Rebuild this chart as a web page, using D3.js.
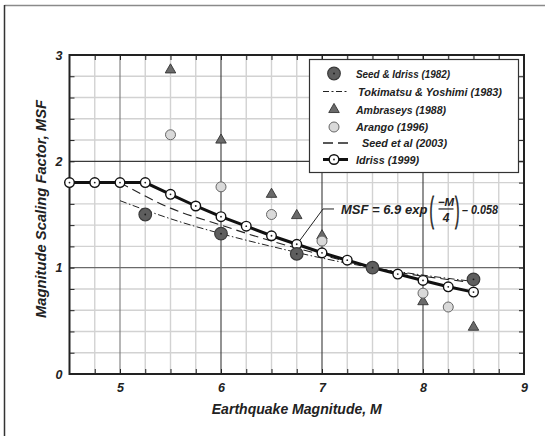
<!DOCTYPE html>
<html>
<head>
<meta charset="utf-8">
<script src="https://cdn.jsdelivr.net/npm/d3@7"></script>
<style>
  body { margin: 0; background: #fff; }
  text { font-family: "Liberation Sans", Arial, sans-serif; font-weight: bold; font-style: italic; fill: #222; }
</style>
</head>
<body>
<svg id="chart" width="545" height="436"></svg>
<script>
// ---- data -------------------------------------------------------------
const idrissM   = [4.5, 4.75, 5, 5.25, 5.5, 5.75, 6, 6.25, 6.5, 6.75, 7, 7.25, 7.5, 7.75, 8, 8.25, 8.5];
const idrissMSF = [1.80, 1.80, 1.80, 1.80, 1.69, 1.58, 1.48, 1.39, 1.30, 1.22, 1.14, 1.07, 1.00, 0.94, 0.88, 0.82, 0.77];

const seedIdrissM   = [5.25, 6, 6.75, 7.5, 8.5];
const seedIdrissMSF = [1.50, 1.32, 1.13, 1.00, 0.89];

const ambraseysM   = [5.5, 6, 6.5, 6.75, 7, 7.5, 8, 8.5];
const ambraseysMSF = [2.86, 2.20, 1.69, 1.49, 1.30, 1.00, 0.68, 0.44];

const arangoM   = [5.5, 6, 6.5, 7, 7.5, 8, 8.25];
const arangoMSF = [2.25, 1.76, 1.50, 1.25, 1.00, 0.76, 0.63];

const tokimatsuM   = [5, 5.5, 6, 6.5, 7, 7.5, 8, 8.5];
const tokimatsuMSF = [1.63, 1.46, 1.32, 1.20, 1.09, 1.00, 0.93, 0.87];

const seed2003M   = [5, 5.5, 6, 6.5, 7, 7.5, 8, 8.5];
const seed2003MSF = [1.80, 1.56, 1.40, 1.25, 1.12, 1.00, 0.92, 0.86];

const xTickLabels = [5, 6, 7, 8, 9];
const yTickLabels = [0, 1, 2, 3];
const xMinorTicks = d3.range(19, 36).map(i => i / 4);   // 4.75 .. 8.75
const yMinorTicks = d3.range(1, 15).map(i => i / 5);    // 0.2 .. 2.8

const legendLabels = ["Seed & Idriss (1982)", "Tokimatsu & Yoshimi (1983)", "Ambraseys (1988)",
                      "Arango (1996)", "Seed et al (2003)", "Idriss (1999)"];

// ---- layout -----------------------------------------------------------
const svg = d3.select("#chart");
const L = 69.5, R = 524, T = 55, B = 374;
const x = d3.scaleLinear().domain([4.5, 9]).range([L, R]);
const y = d3.scaleLinear().domain([0, 3]).range([B, T]);
const zip = (a, b) => a.map((v, i) => [v, b[i]]);

// page frame
svg.append("line").attr("x1", 4.5).attr("x2", 545).attr("y1", 5.5).attr("y2", 5.5)
  .attr("stroke", "#8a8a8a").attr("stroke-width", 1.5);
svg.append("line").attr("x1", 4.5).attr("x2", 4.5).attr("y1", 5).attr("y2", 436)
  .attr("stroke", "#333").attr("stroke-width", 1.5);

// ---- grid -------------------------------------------------------------
const grid = svg.append("g");
grid.selectAll(".vx").data(xMinorTicks.filter(v => v % 1 !== 0)).join("line")
  .attr("x1", d => x(d)).attr("x2", d => x(d)).attr("y1", T).attr("y2", B)
  .attr("stroke", "#d2d2d2").attr("stroke-width", 1.4);
grid.selectAll(".hy").data(yMinorTicks.filter(v => Math.abs(v - Math.round(v)) > 1e-6)).join("line")
  .attr("y1", d => y(d)).attr("y2", d => y(d)).attr("x1", L).attr("x2", R)
  .attr("stroke", "#d2d2d2").attr("stroke-width", 1.4);
grid.selectAll(".vmaj").data([5, 6, 7, 8]).join("line")
  .attr("x1", d => x(d)).attr("x2", d => x(d)).attr("y1", T).attr("y2", B)
  .attr("stroke", d => d === 5 ? "#7a7a7a" : "#3a3a3a").attr("stroke-width", 1.1);
grid.selectAll(".hmaj").data([1, 2]).join("line")
  .attr("y1", d => y(d)).attr("y2", d => y(d)).attr("x1", L).attr("x2", R)
  .attr("stroke", d => d === 1 ? "#6a6a6a" : "#3a3a3a").attr("stroke-width", 1.1);

// ---- axes (inward ticks on all four sides) -----------------------------
const tickLen = 5;
function styleAxis(g) {
  g.select(".domain").remove();
  g.selectAll(".tick line").attr("stroke", "#222").attr("stroke-width", 1);
  g.selectAll(".tick text").remove();
}
svg.append("g").attr("transform", `translate(0,${B})`)
  .call(d3.axisBottom(x).tickValues(xMinorTicks).tickSizeInner(-tickLen).tickSizeOuter(0)).call(styleAxis);
svg.append("g").attr("transform", `translate(0,${T})`)
  .call(d3.axisTop(x).tickValues(xMinorTicks).tickSizeInner(-tickLen).tickSizeOuter(0)).call(styleAxis);
svg.append("g").attr("transform", `translate(${L},0)`)
  .call(d3.axisLeft(y).tickValues(yMinorTicks).tickSizeInner(-tickLen).tickSizeOuter(0)).call(styleAxis);
svg.append("g").attr("transform", `translate(${R},0)`)
  .call(d3.axisRight(y).tickValues(yMinorTicks).tickSizeInner(-tickLen).tickSizeOuter(0)).call(styleAxis);

// tick labels
const xLab = svg.append("g").attr("transform", `translate(0,${B})`)
  .call(d3.axisBottom(x).tickValues(xTickLabels).tickSize(0).tickPadding(9).tickFormat(d3.format("d")));
xLab.select(".domain").remove();
xLab.selectAll("text").attr("font-size", 12.5).attr("fill", "#222")
  .style("font-family", '"Liberation Sans", Arial, sans-serif');
const yLab = svg.append("g").attr("transform", `translate(${L},0)`)
  .call(d3.axisLeft(y).tickValues(yTickLabels).tickSize(0).tickPadding(7).tickFormat(d3.format("d")));
yLab.select(".domain").remove();
yLab.selectAll("text").attr("font-size", 12.5).attr("fill", "#222")
  .style("font-family", '"Liberation Sans", Arial, sans-serif');

// plot border
svg.append("rect").attr("x", L).attr("y", T).attr("width", R - L).attr("height", B - T)
  .attr("fill", "none").attr("stroke", "#222").attr("stroke-width", 2);

// axis titles
svg.append("text").attr("x", (L + R) / 2).attr("y", 414).attr("text-anchor", "middle")
  .attr("font-size", 15).attr("textLength", 170).attr("lengthAdjust", "spacingAndGlyphs")
  .text("Earthquake Magnitude, M");
svg.append("text").attr("transform", "translate(46,209) rotate(-90)").attr("text-anchor", "middle")
  .attr("font-size", 15).attr("textLength", 218).attr("lengthAdjust", "spacingAndGlyphs")
  .text("Magnitude Scaling Factor, MSF");

// ---- curves -----------------------------------------------------------
const smooth = d3.line().x(d => x(d[0])).y(d => y(d[1])).curve(d3.curveMonotoneX);
const straight = d3.line().x(d => x(d[0])).y(d => y(d[1]));
const dashDot = "7,2.5,1.5,2.5";
const dashed = "9,5";

svg.append("path").attr("d", smooth(zip(tokimatsuM, tokimatsuMSF)))
  .attr("fill", "none").attr("stroke", "#222").attr("stroke-width", 1).attr("stroke-dasharray", dashDot);
svg.append("path").attr("d", smooth(zip(seed2003M, seed2003MSF)))
  .attr("fill", "none").attr("stroke", "#222").attr("stroke-width", 1.1).attr("stroke-dasharray", dashed);

// Idriss (1999)
svg.append("path").attr("d", straight(zip(idrissM, idrissMSF)))
  .attr("fill", "none").attr("stroke", "#111").attr("stroke-width", 3);

function idrissMarker(g, cx, cy) {
  g.append("circle").attr("cx", cx).attr("cy", cy).attr("r", 4.8)
    .attr("fill", "#fff").attr("stroke", "#111").attr("stroke-width", 1.4);
  g.append("circle").attr("cx", cx).attr("cy", cy).attr("r", 0.9).attr("fill", "#222");
}
const idrissG = svg.append("g");
zip(idrissM, idrissMSF).forEach(d => idrissMarker(idrissG, x(d[0]), y(d[1])));

// Ambraseys (1988)
const tri = d3.symbol().type(d3.symbolTriangle).size(48);
function triMarker(g, cx, cy) {
  g.append("path").attr("d", tri()).attr("transform", `translate(${cx},${cy})`)
    .attr("fill", "#6a6a6a").attr("stroke", "#333").attr("stroke-width", 0.9);
}
const ambG = svg.append("g");
zip(ambraseysM, ambraseysMSF).forEach(d => triMarker(ambG, x(d[0]), y(d[1])));

// Arango (1996)
function arangoMarker(g, cx, cy) {
  g.append("circle").attr("cx", cx).attr("cy", cy).attr("r", 5)
    .attr("fill", "#d9d9d9").attr("stroke", "#666").attr("stroke-width", 1);
}
const araG = svg.append("g");
zip(arangoM, arangoMSF).forEach(d => arangoMarker(araG, x(d[0]), y(d[1])));

// Seed & Idriss (1982)
function seedIdrissMarker(g, cx, cy) {
  g.append("circle").attr("cx", cx).attr("cy", cy).attr("r", 6.3)
    .attr("fill", "#5e5e5e").attr("stroke", "#3a3a3a").attr("stroke-width", 1.2);
  g.append("circle").attr("cx", cx).attr("cy", cy).attr("r", 0.9).attr("fill", "#1a1a1a");
}
const siG = svg.append("g");
zip(seedIdrissM, seedIdrissMSF).forEach(d => seedIdrissMarker(siG, x(d[0]), y(d[1])));

// ---- equation annotation ----------------------------------------------
const ann = svg.append("g");
const tipX = x(6.78), tipY = y(1.255), elbowX = x(7.01), elbowY = y(1.552);
ann.append("polyline")
  .attr("points", `${tipX},${tipY} ${elbowX},${elbowY} ${elbowX + 11},${elbowY}`)
  .attr("fill", "none").attr("stroke", "#222").attr("stroke-width", 1);
const ex = elbowX + 18, ey = elbowY + 5.5;
ann.append("text").attr("x", ex).attr("y", ey).attr("font-size", 13).text("MSF = 6.9 exp");
// tall delimiters: a normal glyph stretched vertically around the fraction
const paren = (px, ch) => ann.append("text")
  .attr("transform", `translate(${px},${elbowY + 13.5}) scale(0.95,2.45)`)
  .attr("font-size", 14).style("font-style", "normal").style("font-weight", "normal")
  .attr("stroke", "#222").attr("stroke-width", 0.35).text(ch);
paren(ex + 88.5, "(");
paren(ex + 114, ")");
ann.append("text").attr("x", ex + 105).attr("y", elbowY - 3).attr("font-size", 11.5)
  .attr("text-anchor", "middle").text("−M");
ann.append("line").attr("x1", ex + 97.5).attr("x2", ex + 112.5).attr("y1", elbowY).attr("y2", elbowY)
  .attr("stroke", "#222").attr("stroke-width", 1.2);
ann.append("text").attr("x", ex + 105).attr("y", elbowY + 13).attr("font-size", 12)
  .attr("text-anchor", "middle").text("4");
ann.append("text").attr("x", ex + 121).attr("y", ey).attr("font-size", 13)
  .attr("textLength", 36).attr("lengthAdjust", "spacingAndGlyphs").text("– 0.058");

// ---- legend -----------------------------------------------------------
const lg = svg.append("g");
lg.append("rect").attr("x", 309.5).attr("y", 59.5).attr("width", 209).attr("height", 113)
  .attr("fill", "#fff").attr("stroke", "#333").attr("stroke-width", 1.2);
const rowY = [73.5, 91.5, 109.5, 127, 143, 159.5];
const textX = [356, 358, 356, 356, 362, 356];
const textW = [94, 144, 90, 72, 85, 63];
const symX = 334;
legendLabels.forEach((t, i) => {
  lg.append("text").attr("x", textX[i]).attr("y", rowY[i] + 4).attr("font-size", 11.5)
    .attr("textLength", textW[i]).attr("lengthAdjust", "spacingAndGlyphs").text(t);
});
seedIdrissMarker(lg, symX, rowY[0]);
lg.append("line").attr("x1", 323).attr("x2", 348).attr("y1", rowY[1]).attr("y2", rowY[1])
  .attr("stroke", "#222").attr("stroke-width", 1.2).attr("stroke-dasharray", "6,2.5,2,2.5");
triMarker(lg, symX, rowY[2]);
arangoMarker(lg, symX, rowY[3]);
lg.append("line").attr("x1", 323).attr("x2", 348).attr("y1", rowY[4]).attr("y2", rowY[4])
  .attr("stroke", "#222").attr("stroke-width", 1.4).attr("stroke-dasharray", "10,5");
lg.append("line").attr("x1", 323).attr("x2", 348).attr("y1", rowY[5]).attr("y2", rowY[5])
  .attr("stroke", "#111").attr("stroke-width", 3);
idrissMarker(lg, symX, rowY[5]);
</script>
</body>
</html>
